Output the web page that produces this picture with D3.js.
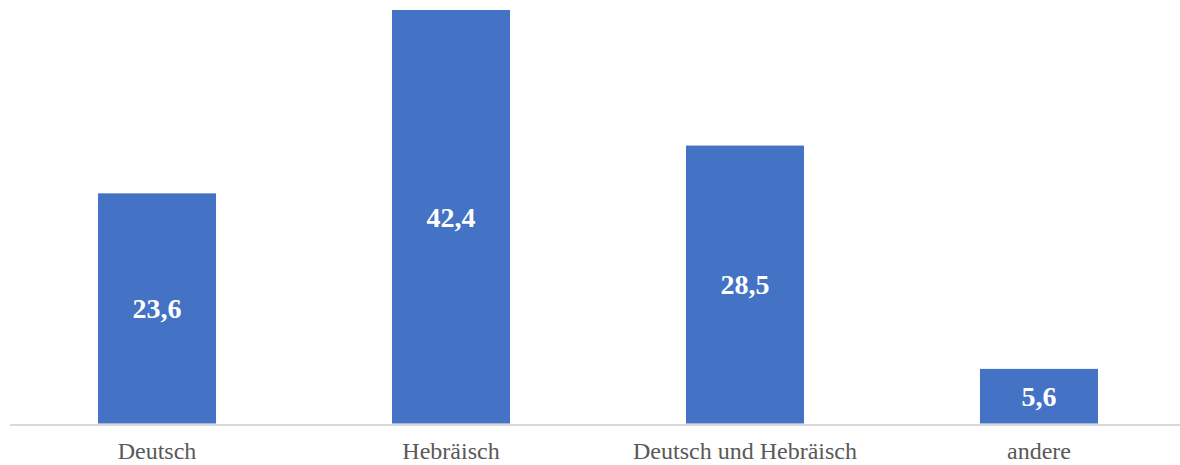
<!DOCTYPE html>
<html>
<head>
<meta charset="utf-8">
<script src="https://cdn.jsdelivr.net/npm/d3@7"></script>
<style>
  html, body { margin: 0; padding: 0; background: #fff; }
  svg { display: block; }
</style>
</head>
<body>
<svg id="chart" width="1180" height="465"></svg>
<script>
const categories = ["Deutsch", "Hebräisch", "Deutsch und Hebräisch", "andere"];
const values = [23.6, 42.4, 28.5, 5.6];
const valueLabels = ["23,6", "42,4", "28,5", "5,6"];

const width = 1180, height = 465;
const margin = { top: 10, right: 0, bottom: 41.5, left: 16 };
const axisStart = 10;
const svg = d3.select("#chart");

const x = d3.scaleBand()
  .domain(categories)
  .range([margin.left, width - margin.right])
  .paddingInner(0.5986)
  .paddingOuter(0.279);

const y = d3.scaleLinear()
  .domain([0, 42.4])
  .range([height - margin.bottom, margin.top]);

const baseY = y(0);

svg.selectAll("rect.bar")
  .data(values)
  .join("rect")
  .attr("class", "bar")
  .attr("x", (d, i) => x(categories[i]))
  .attr("y", d => y(d))
  .attr("width", x.bandwidth())
  .attr("height", d => baseY - y(d))
  .attr("fill", "#4472c4");

// baseline axis, drawn just under the bars
const axis = d3.axisBottom(x).tickSize(0).tickPadding(17);
const g = svg.append("g")
  .attr("transform", `translate(0,${baseY + 1.5})`)
  .call(axis);
g.select(".domain").attr("stroke", "#d9d9d9").attr("stroke-width", 2)
  .attr("d", `M${axisStart},0H${width}`);
g.selectAll(".tick text")
  .attr("fill", "#595959")
  .style("font-family", "'Liberation Serif', 'Times New Roman', serif")
  .style("font-size", "24px");

svg.selectAll("text.val")
  .data(values)
  .join("text")
  .attr("class", "val")
  .attr("x", (d, i) => x(categories[i]) + x.bandwidth() / 2)
  .attr("y", d => (y(d) + baseY) / 2)
  .attr("dy", "0.35em")
  .attr("text-anchor", "middle")
  .attr("fill", "#fff")
  .style("font-family", "'Liberation Serif', 'Times New Roman', serif")
  .style("font-weight", "bold")
  .style("font-size", "28px")
  .text((d, i) => valueLabels[i]);
</script>
</body>
</html>
